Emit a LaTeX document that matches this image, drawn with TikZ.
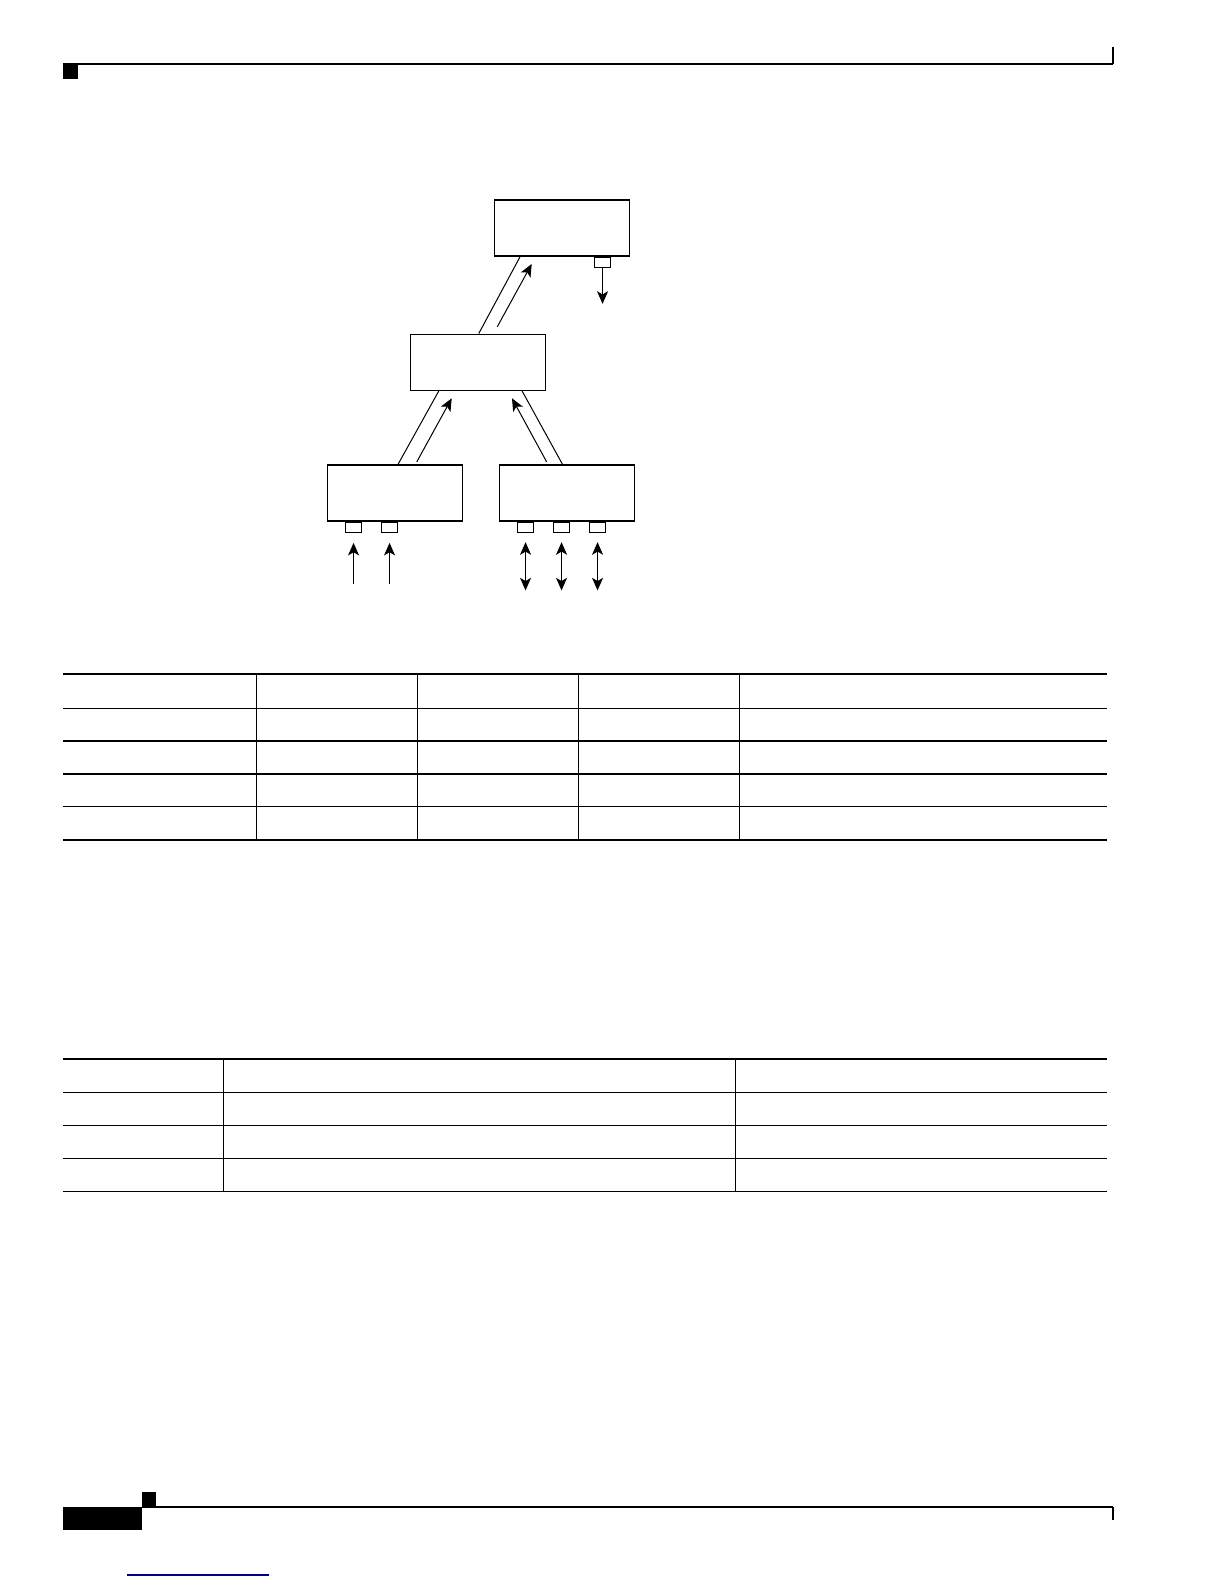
\documentclass[tikz,border=0pt]{standalone}
\usetikzlibrary{arrows.meta,calc}

\begin{document}
\begin{tikzpicture}[
            x=0.5pt, y=-0.5pt,
            >={Stealth[length=6.3pt,width=5.5pt,inset=1.6pt]},
            unit/.style={draw, line width=0.75pt, minimum width=67.5pt, minimum height=28pt, inner sep=0pt},
            port/.style={draw, line width=0.6pt, minimum width=8pt, minimum height=5pt, inner sep=0pt, anchor=north},
            link/.style={line width=0.5pt},
            flow/.style={->, line width=0.5pt},
            toprule/.style={line width=1pt},
            rowrule/.style={line width=0.65pt},
            colrule/.style={line width=0.4pt}
        ]

        \path[use as bounding box, fill=white] (0,0) rectangle (1224,1584);

        % Page header and footer
        \fill (63,64) rectangle (78,79);
        \draw[rowrule] (63,64) -- (1112.7,64);
        \draw[line width=1pt] (1112.7,64) -- (1112.7,46.7);
        \fill (63,1507) rectangle (142,1530);
        \fill (142,1492) rectangle (156,1507);
        \draw[rowrule] (142,1507) -- (1112.7,1507);
        \draw[line width=1pt] (1112.7,1507) -- (1112.7,1520);
        \draw[blue!55!black, line width=0.6pt] (127,1575) -- (268.7,1575);

        % Units
        \node[unit] (top) at (561.8,228.2) {};
        \node[unit] (mid) at (478,362.3) {};
        \node[unit] (left) at (394.8,493.2) {};
        \node[unit] (right) at (566.8,493.2) {};

        % Ports
        \node[port] (tp) at ($(top.south west)+(109,0)$) {};
        \foreach \dx [count=\i] in {27,63}
            \node[port] (lp\i) at ($(left.south west)+(\dx,0)$) {};
        \foreach \dx [count=\i] in {27,63,99}
            \node[port] (rp\i) at ($(right.south west)+(\dx,0)$) {};

        % Links between units
        \coordinate (tm1) at ($(top.south west)+(26.4,0)$);
        \coordinate (tm2) at ($(mid.north west)+(69,0)$);
        \coordinate (ml1) at ($(mid.south west)+(29,0)$);
        \coordinate (ml2) at ($(left.north west)+(71.4,0)$);
        \coordinate (mr1) at ($(mid.south west)+(112.4,0)$);
        \coordinate (mr2) at ($(right.north west)+(64,0)$);
        \draw[link] (tm1) -- (tm2);
        \draw[link] (ml1) -- (ml2);
        \draw[link] (mr1) -- (mr2);

        % Traffic direction
        \coordinate (a1) at (497.3,326.7);
        \coordinate (a2) at (531.7,264);
        \coordinate (b1) at (416.7,462);
        \coordinate (b2) at (451.7,398.3);
        \coordinate (c1) at (546.7,462);
        \coordinate (c2) at (512,398.3);
        \draw[flow] (a1) -- (a2);
        \draw[flow] (b1) -- (b2);
        \draw[flow] (c1) -- (c2);

        % Port traffic
        \draw[flow] (tp.south) -- ++(0,35.7);
        \foreach \i in {1,2}
            \draw[flow] ($(lp\i.south)+(0,50.7)$) -- ($(lp\i.south)+(0,9.7)$);
        \foreach \i in {1,2,3}
            \draw[flow, <->] ($(rp\i.south)+(0,9)$) -- ($(rp\i.south)+(0,57.3)$);

        % Table one
        \draw[toprule] (63,674.3) -- (1107,674.3);
        \foreach \y in {708.3,741,774,806.7,840}
            \draw[rowrule] (63,\y) -- (1107,\y);
        \foreach \x in {256.7,417,578,739}
            \draw[colrule] (\x,674.3) -- (\x,840);

        % Table two
        \draw[toprule] (63,1059) -- (1107,1059);
        \foreach \y in {1092.3,1125.3,1158.3,1191.3}
            \draw[rowrule] (63,\y) -- (1107,\y);
        \foreach \x in {223.5,735}
            \draw[colrule] (\x,1059) -- (\x,1191.3);

        \end{tikzpicture}
\end{document}
